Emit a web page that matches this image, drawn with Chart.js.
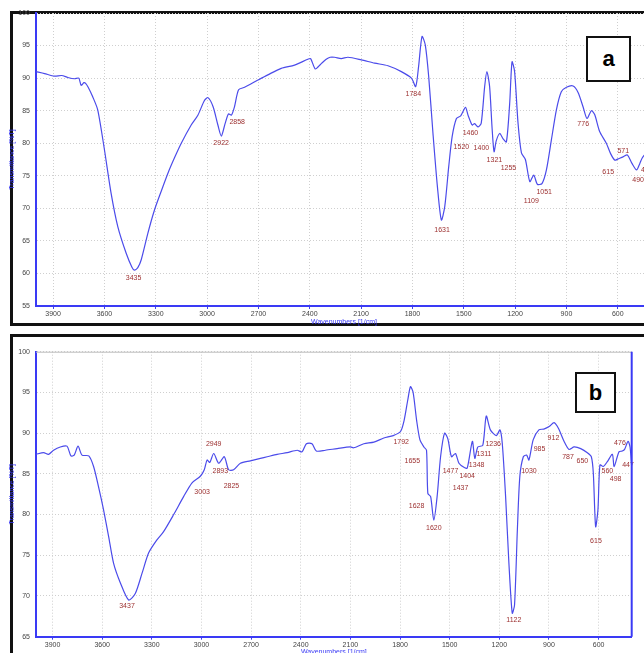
<!DOCTYPE html>
<html>
<head>
<meta charset="utf-8">
<script src="https://cdn.jsdelivr.net/npm/chart.js@4.4.1/dist/chart.umd.min.js"></script>
<style>
  html, body { margin: 0; padding: 0; background: #fff; }
  body { width: 644px; height: 653px; overflow: hidden; position: relative; }
  .frame { position: absolute; border: 3px solid #111; box-sizing: border-box; background: #fff; }
  .wrap { position: absolute; left: 0; }
  .tag { position: absolute; border: 2px solid #111; background: #fff; box-sizing: border-box;
         font: bold 22px "Liberation Sans", Arial, sans-serif; display: flex; align-items: center; justify-content: center; }
</style>
</head>
<body>
<div class="frame" style="left:10px; top:11px; width:660px; height:315px;"></div>
<div class="frame" style="left:10px; top:334px; width:660px; height:340px;"></div>
<div class="wrap" style="top:0; width:660px; height:326px;"><canvas id="chartA"></canvas></div>
<div class="wrap" style="top:335px; width:644px; height:321px;"><canvas id="chartB"></canvas></div>
<div class="tag" style="left:586px; top:36px; width:45px; height:46px;">a</div>
<div class="tag" style="left:575px; top:372px; width:41px; height:41px;">b</div>

<script>
// x tick labels (wavenumbers)
const xTicks = [3900, 3600, 3300, 3000, 2700, 2400, 2100, 1800, 1500, 1200, 900, 600];
const yTicksA = [55, 60, 65, 70, 75, 80, 85, 90, 95, 100];
const yTicksB = [65, 70, 75, 80, 85, 90, 95, 100];

// spectrum a
const aWn = [4000,3950,3892,3850,3814,3775,3750,3736,3720,3710,3695,3668,3639,3600,3561,3522,3473,3440,3425,3405,
  3385,3346,3308,3270,3229,3190,3151,3093,3054,3015,2995,2965,2937,2917,2895,2875,2858,2840,2816,2781,
  2703,2645,2567,2489,2411,2395,2368,2345,2330,2304,2281,2255,2216,2177,2099,2021,1943,1865,1806,1781,
  1764,1744,1725,1705,1680,1654,1631,1611,1588,1568,1543,1518,1490,1475,1451,1437,1416,1398,1378,1365,
  1349,1335,1323,1310,1290,1271,1251,1232,1218,1203,1183,1163,1140,1114,1091,1070,1043,1017,988,959,
  930,900,861,832,803,780,754,735,706,667,642,617,598,569,544,517,490,471,458,444,420];
const aT = [91.0,90.7,90.3,90.4,90.1,89.9,90.0,88.9,89.3,89.2,88.6,87.1,85.1,79.0,72.3,67.2,63.1,61.0,60.5,60.9,
  62.1,66.2,69.7,72.5,75.4,77.8,80.0,82.8,84.3,86.6,87.0,85.6,82.8,81.1,83.0,84.5,84.3,85.6,88.2,88.6,
  89.7,90.5,91.5,92.0,92.9,93.0,91.4,91.9,92.3,92.9,93.2,93.2,93.0,93.2,92.8,92.3,91.9,91.0,90.0,88.7,
  91.8,96.4,95.1,90.2,81.5,73.3,68.2,70.3,76.4,81.0,83.8,84.2,85.5,84.3,82.8,83.0,82.5,83.1,88.7,91.0,
  88.7,82.5,78.7,80.4,81.5,80.7,80.2,86.0,92.5,91.0,83.1,78.5,77.5,74.1,75.1,73.7,73.8,75.9,80.5,85.1,
  87.9,88.6,88.8,87.8,85.6,83.8,85.0,84.4,81.8,80.0,78.4,77.4,77.6,77.9,78.2,76.9,75.9,76.9,77.7,78.2,78.6];

// spectrum b
const bWn = [4000,3954,3924,3894,3853,3813,3789,3769,3746,3722,3681,3652,3622,3592,3561,3531,3490,3440,3400,3359,
  3319,3269,3229,3168,3108,3057,3007,2983,2966,2950,2926,2896,2862,2836,2806,2765,2705,2644,2603,2543,
  2482,2422,2392,2366,2332,2306,2251,2180,2100,2080,2019,1958,1898,1841,1797,1775,1753,1737,1721,1700,
  1680,1656,1640,1632,1615,1596,1576,1555,1531,1511,1489,1465,1444,1414,1394,1363,1348,1330,1300,1279,
  1254,1218,1196,1182,1162,1142,1122,1108,1091,1076,1055,1035,1021,995,961,931,899,869,843,809,
  779,748,708,668,644,632,618,604,592,572,547,517,506,477,457,443,422,410,400];
const bT = [87.4,87.6,87.4,87.9,88.3,88.4,87.2,87.3,88.4,87.3,87.2,85.9,83.4,80.6,77.3,74.0,71.6,69.5,70.3,72.8,
  75.3,76.9,77.9,80.0,82.2,83.9,84.7,85.5,86.7,86.4,87.5,86.3,87.1,85.5,85.5,86.3,86.6,86.9,87.1,87.4,
  87.6,87.9,87.7,88.7,88.7,87.8,87.9,88.1,88.3,88.2,88.7,88.9,89.4,89.7,90.2,91.6,94.1,95.7,95.0,91.6,
  89.2,88.3,87.9,82.6,82.2,79.3,82.2,87.1,90.0,89.3,87.1,87.5,86.3,85.8,85.7,89.0,86.9,88.3,88.5,92.1,
  90.4,89.7,90.4,88.7,82.2,74.0,67.9,68.9,78.1,84.7,87.1,87.3,86.7,89.2,90.4,90.5,90.8,91.3,90.6,89.0,
  88.0,88.3,88.1,87.6,87.1,85.1,78.5,80.6,86.1,85.9,86.5,87.4,85.9,87.7,87.8,88.0,89.0,88.3,85.9];

// peak annotations: text, anchor wavenumber, anchor %T
const aPeakText = ["3435","2922","2858","1784","1631","1460","1520","1400","1321","1255","1109","1051","776","615","571","490","457"];
const aPeakWn   = [3430, 2918, 2824, 1795, 1627, 1461, 1514, 1397, 1321, 1239, 1105, 1030, 802, 656, 568, 481, 430];
const aPeakT    = [59.3, 80.0, 83.3, 87.6, 66.7, 81.6, 79.4, 79.3, 77.4, 76.2, 71.1, 72.5, 82.9, 75.6, 78.8, 74.3, 75.9];

const bPeakText = ["3437","3003","2949","2893","2825","1792","1655","1628","1620","1477","1437","1404","1348","1311","1236",
  "1122","1030","985","912","787","650","615","560","498","476","447"];
const bPeakWn   = [3450, 2996, 2926, 2886, 2819, 1793, 1726, 1700, 1596, 1495, 1434, 1394, 1337, 1293, 1237,
  1112, 1021, 957, 873, 785, 698, 616, 547, 497, 471, 422];
const bPeakT    = [68.8, 82.8, 88.6, 85.3, 83.5, 88.9, 86.6, 81.0, 78.4, 85.4, 83.2, 84.7, 86.1, 87.4, 88.7,
  67.1, 85.4, 88.0, 89.4, 87.0, 86.6, 76.8, 85.4, 84.4, 88.8, 86.1];

const FONT = "'Liberation Sans', Arial, sans-serif";

const peakLabels = {
  id: 'peakLabels',
  afterDatasetsDraw(chart, args, opts) {
    const ctx = chart.ctx;
    const xs = chart.scales.x, ys = chart.scales.y;
    ctx.save();
    ctx.font = '7px ' + FONT;
    ctx.fillStyle = '#9c2f2f';
    ctx.textAlign = 'center';
    ctx.textBaseline = 'middle';
    opts.text.forEach(function(t, i) {
      ctx.fillText(t, xs.getPixelForValue(opts.wn[i]), ys.getPixelForValue(opts.t[i]));
    });
    ctx.restore();
  }
};

const plotBox = {
  id: 'plotBox',
  afterDraw(chart, args, opts) {
    if (!opts.show) return;
    const a = chart.chartArea, ctx = chart.ctx;
    ctx.save();
    ctx.lineWidth = 1;
    ctx.strokeStyle = '#bbbbbb';
    ctx.beginPath(); ctx.moveTo(a.left, a.top + 0.5); ctx.lineTo(a.right, a.top + 0.5); ctx.stroke();
    ctx.lineWidth = 2;
    ctx.strokeStyle = '#3a3af5';
    ctx.beginPath(); ctx.moveTo(a.right, a.top); ctx.lineTo(a.right, a.bottom); ctx.stroke();
    ctx.restore();
  }
};

function plain(v) { return String(v); }

function makeChart(id, wn, t, yTicks, yMin, padTop, padRight, xHeight, peaks, box) {
  return new Chart(document.getElementById(id), {
    type: 'line',
    data: {
      datasets: [{
        data: wn.map(function(w, i) { return { x: w, y: t[i] }; }),
        borderColor: '#4b4bea',
        borderWidth: 1.2,
        pointRadius: 0,
        tension: 0.25,
        fill: false
      }]
    },
    options: {
      responsive: true,
      maintainAspectRatio: false,
      animation: false,
      layout: { padding: { left: 0, top: padTop, right: padRight, bottom: 0 } },
      plugins: {
        legend: { display: false },
        tooltip: { enabled: false },
        peakLabels: peaks,
        plotBox: { show: box }
      },
      scales: {
        x: {
          type: 'linear',
          reverse: true,
          min: 400,
          max: 4000,
          afterBuildTicks: function(s) { s.ticks = xTicks.map(function(v) { return { value: v }; }); },
          afterFit: function(s) { s.height = xHeight; },
          grid: { color: '#cfcfcf', lineWidth: 1, tickLength: 3, tickColor: '#4040f0' },
          border: { color: '#3a3af5', width: 2, dash: [1, 2] },
          ticks: { font: { size: 7, family: FONT }, color: '#444', padding: 1, maxRotation: 0, callback: plain },
          title: { display: true, text: 'Wavenumbers [1/cm]', color: '#3a3af5', font: { size: 7, family: FONT }, padding: 0 }
        },
        y: {
          min: yMin,
          max: 100,
          afterBuildTicks: function(s) { s.ticks = yTicks.map(function(v) { return { value: v }; }); },
          afterFit: function(s) { s.width = 36; },
          grid: { color: '#cfcfcf', lineWidth: 1, drawTicks: false },
          border: { color: '#3a3af5', width: 2, dash: [1, 2] },
          ticks: { font: { size: 7, family: FONT }, color: '#444', padding: 6, callback: plain },
          title: { display: true, text: 'Transmittance [%T]', color: '#3a3af5', font: { size: 7, family: FONT }, padding: { top: 8, bottom: 0 } }
        }
      }
    },
    plugins: [peakLabels, plotBox]
  });
}

makeChart('chartA', aWn, aT, yTicksA, 55, 13, 8, 20,
  { text: aPeakText, wn: aPeakWn, t: aPeakT }, false);
makeChart('chartB', bWn, bT, yTicksB, 65, 16.7, 12.3, 19.3,
  { text: bPeakText, wn: bPeakWn, t: bPeakT }, true);
</script>
</body>
</html>
